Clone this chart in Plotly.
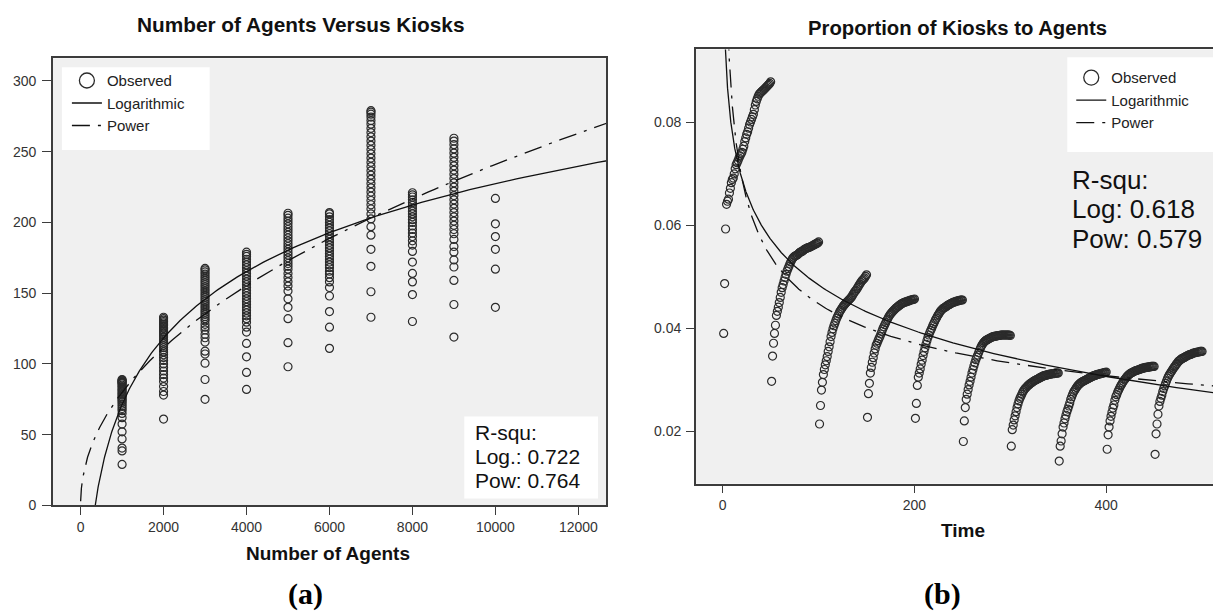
import numpy as np
import plotly.graph_objects as go

W, H = 1221, 612

# ---------------- Panel (a) data: kiosks observed per number of agents ----------------
agent_levels = [1000, 2000, 3000, 4000, 5000, 6000, 7000, 8000, 9000, 10000]
kiosks_1000 = [29, 38.5, 40.5, 47, 52, 57.5, 62, 65, 67, 68.5, 70, 71.5, 73, 74, 75, 76, 77, 78,
               79, 80, 81, 82, 83, 84, 85, 86, 86.5, 87, 87.5, 88, 88.5, 89]
kiosks_2000 = [61, 78, 80.5, 84, 87.5, 90, 92.5, 95, 97.5, 100, 102.5, 104.5, 106.5, 108.5, 110,
               111.5, 113, 114.5, 116, 117.5, 119, 120.5, 122, 123, 124, 125, 126, 127, 128, 129,
               130, 131, 132, 133]
kiosks_3000 = [75, 89, 100.5, 107, 109, 115.5, 118.5, 121, 124, 126, 128, 130.5, 132, 133.5, 135,
               136.5, 138, 139.5, 141, 142.5, 144, 145.5, 147, 148.5, 150, 151.5, 153, 154.5, 156,
               157.5, 159, 160.5, 162, 163.5, 165, 166.5, 167.5]
kiosks_4000 = [82, 94, 105, 114.5, 122.5, 126, 129.5, 132, 134, 136, 138, 140, 142, 144, 146, 148,
               150, 152, 154, 156, 158, 160, 162, 164, 166, 168, 170, 172, 174, 176, 177.5, 179]
kiosks_5000 = [98, 115, 132, 140, 146, 151.5, 155, 158, 161, 164, 167, 169, 171, 173, 175, 177,
               179, 181, 183, 185, 187, 189, 191, 193, 195, 197, 199, 201, 203, 205, 206.5]
kiosks_6000 = [111, 126, 137, 148, 154, 158, 161, 163.5, 165.5, 168, 170, 172, 174, 176, 178, 180,
               182, 184, 186, 188, 190, 192, 194, 196, 198, 200, 202, 204, 206, 207]
kiosks_7000 = [133, 151, 169, 181, 191, 197, 202.5, 206, 209.5, 212.5, 215.5, 218.5, 221.5, 224.5,
               227.5, 230.5, 233.5, 236.5, 239.5, 242.5, 245.5, 248.5, 251.5, 254.5, 257.5, 260.5,
               263.5, 266.5, 269.5, 272, 274.5, 276.5, 278, 279]
kiosks_8000 = [130, 149, 158, 164, 172, 179.5, 184, 187, 190, 192.5, 195, 197.5, 200, 202, 204,
               206, 208, 210, 212, 214, 216, 218, 219.5, 221]
kiosks_9000 = [119, 142, 159, 168.5, 173.5, 179, 183, 188, 192, 195, 198, 201, 204, 207, 210, 213,
               216, 219, 222, 225, 228, 231, 234, 237, 240, 243, 246, 249, 252, 255, 257.5, 259.5]
kiosks_10000 = [140, 167, 181, 190, 199, 217]

# fitted curve coefficients: log y = a + b ln x ; power y = c x^d
log_fit_a = [-397.0, 67.8]
pow_fit_a = [2.925, 0.479]
rsq_a = ["R-squ:", "Log.: 0.722", "Pow: 0.764"]

# ---------------- Panel (b) data: proportion of kiosks to agents over time ----------------
run_starts = [1, 51, 101, 151, 201, 251, 301, 351, 401, 451]
prop_run1 = [0.0390, 0.0487, 0.0593, 0.0641, 0.0647, 0.0651, 0.0663, 0.0672, 0.0683, 0.0689,
             0.0692, 0.0700, 0.0710, 0.0718, 0.0722, 0.0726, 0.0731, 0.0735, 0.0739, 0.0742,
             0.0748, 0.0754, 0.0763, 0.0770, 0.0777, 0.0782, 0.0789, 0.0796, 0.0801, 0.0806,
             0.0811, 0.0816, 0.0825, 0.0834, 0.0841, 0.0846, 0.0851, 0.0855, 0.0857, 0.0859,
             0.0861, 0.0862, 0.0864, 0.0866, 0.0868, 0.0870, 0.0872, 0.0874, 0.0876, 0.0879]
prop_run2 = [0.0297, 0.0346, 0.0371, 0.0390, 0.0406, 0.0425, 0.0433, 0.0441, 0.0450, 0.0460,
             0.0470, 0.0479, 0.0485, 0.0492, 0.0499, 0.0505, 0.0511, 0.0516, 0.0520, 0.0525,
             0.0529, 0.0533, 0.0536, 0.0538, 0.0540, 0.0541, 0.0542, 0.0543, 0.0545, 0.0547,
             0.0548, 0.0549, 0.0550, 0.0551, 0.0553, 0.0554, 0.0555, 0.0556, 0.0557, 0.0557,
             0.0558, 0.0559, 0.0560, 0.0561, 0.0562, 0.0563, 0.0564, 0.0565, 0.0566, 0.0568]
prop_run3 = [0.0214, 0.0250, 0.0280, 0.0295, 0.0310, 0.0320, 0.0329, 0.0337, 0.0345, 0.0355,
             0.0364, 0.0374, 0.0384, 0.0392, 0.0399, 0.0405, 0.0410, 0.0415, 0.0420, 0.0424,
             0.0428, 0.0432, 0.0435, 0.0438, 0.0441, 0.0444, 0.0446, 0.0448, 0.0450, 0.0452,
             0.0454, 0.0456, 0.0458, 0.0460, 0.0463, 0.0466, 0.0469, 0.0472, 0.0474, 0.0477,
             0.0480, 0.0483, 0.0486, 0.0489, 0.0492, 0.0494, 0.0496, 0.0498, 0.0501, 0.0504]
prop_run4 = [0.0227, 0.0273, 0.0293, 0.0313, 0.0324, 0.0334, 0.0343, 0.0352, 0.0360, 0.0367,
             0.0371, 0.0376, 0.0380, 0.0384, 0.0389, 0.0394, 0.0399, 0.0403, 0.0407, 0.0411,
             0.0415, 0.0418, 0.0422, 0.0425, 0.0428, 0.0430, 0.0432, 0.0434, 0.0436, 0.0438,
             0.0440, 0.0441, 0.0443, 0.0444, 0.0446, 0.0447, 0.0448, 0.0449, 0.0450, 0.0451,
             0.0451, 0.0452, 0.0453, 0.0453, 0.0454, 0.0455, 0.0455, 0.0456, 0.0456, 0.0457]
prop_run5 = [0.0225, 0.0254, 0.0289, 0.0305, 0.0313, 0.0321, 0.0330, 0.0338, 0.0347, 0.0355,
             0.0362, 0.0369, 0.0376, 0.0382, 0.0387, 0.0392, 0.0396, 0.0400, 0.0405, 0.0409,
             0.0413, 0.0417, 0.0420, 0.0424, 0.0427, 0.0430, 0.0433, 0.0435, 0.0437, 0.0439,
             0.0440, 0.0441, 0.0442, 0.0444, 0.0445, 0.0446, 0.0447, 0.0448, 0.0449, 0.0450,
             0.0451, 0.0451, 0.0452, 0.0453, 0.0453, 0.0454, 0.0454, 0.0455, 0.0455, 0.0455]
prop_run6 = [0.0180, 0.0220, 0.0246, 0.0262, 0.0272, 0.0281, 0.0290, 0.0297, 0.0305, 0.0313,
             0.0320, 0.0327, 0.0333, 0.0339, 0.0344, 0.0348, 0.0353, 0.0358, 0.0362, 0.0366,
             0.0369, 0.0372, 0.0374, 0.0376, 0.0377, 0.0378, 0.0379, 0.0380, 0.0381, 0.0382,
             0.0383, 0.0384, 0.0384, 0.0385, 0.0385, 0.0385, 0.0386, 0.0386, 0.0386, 0.0387,
             0.0387, 0.0387, 0.0387, 0.0387, 0.0387, 0.0387, 0.0387, 0.0387, 0.0387, 0.0386]
prop_run7 = [0.0171, 0.0203, 0.0212, 0.0222, 0.0230, 0.0238, 0.0246, 0.0253, 0.0259, 0.0264,
             0.0268, 0.0272, 0.0276, 0.0279, 0.0282, 0.0284, 0.0286, 0.0288, 0.0290, 0.0291,
             0.0293, 0.0294, 0.0295, 0.0297, 0.0298, 0.0299, 0.0300, 0.0301, 0.0302, 0.0303,
             0.0304, 0.0305, 0.0306, 0.0307, 0.0308, 0.0308, 0.0309, 0.0309, 0.0310, 0.0310,
             0.0311, 0.0311, 0.0311, 0.0312, 0.0312, 0.0312, 0.0313, 0.0313, 0.0313, 0.0313]
prop_run8 = [0.0142, 0.0171, 0.0181, 0.0195, 0.0208, 0.0216, 0.0224, 0.0231, 0.0238, 0.0243,
             0.0249, 0.0255, 0.0262, 0.0267, 0.0272, 0.0276, 0.0279, 0.0282, 0.0285, 0.0288,
             0.0290, 0.0292, 0.0293, 0.0295, 0.0296, 0.0297, 0.0298, 0.0299, 0.0300, 0.0301,
             0.0302, 0.0303, 0.0304, 0.0305, 0.0306, 0.0307, 0.0308, 0.0308, 0.0309, 0.0310,
             0.0310, 0.0311, 0.0311, 0.0312, 0.0312, 0.0313, 0.0313, 0.0314, 0.0314, 0.0315]
prop_run9 = [0.0165, 0.0193, 0.0208, 0.0220, 0.0229, 0.0237, 0.0245, 0.0251, 0.0260, 0.0267,
             0.0271, 0.0276, 0.0280, 0.0284, 0.0288, 0.0291, 0.0294, 0.0297, 0.0300, 0.0302,
             0.0305, 0.0307, 0.0309, 0.0310, 0.0312, 0.0313, 0.0314, 0.0315, 0.0316, 0.0317,
             0.0318, 0.0318, 0.0319, 0.0320, 0.0320, 0.0321, 0.0322, 0.0322, 0.0323, 0.0323,
             0.0324, 0.0324, 0.0324, 0.0325, 0.0325, 0.0325, 0.0326, 0.0326, 0.0326, 0.0326]
prop_run10 = [0.0155, 0.0195, 0.0214, 0.0233, 0.0249, 0.0258, 0.0264, 0.0270, 0.0277, 0.0283,
              0.0288, 0.0293, 0.0298, 0.0303, 0.0307, 0.0310, 0.0313, 0.0316, 0.0319, 0.0322,
              0.0325, 0.0327, 0.0330, 0.0332, 0.0335, 0.0337, 0.0338, 0.0340, 0.0341, 0.0342,
              0.0343, 0.0344, 0.0345, 0.0346, 0.0347, 0.0348, 0.0349, 0.0349, 0.0350, 0.0351,
              0.0352, 0.0352, 0.0353, 0.0353, 0.0354, 0.0354, 0.0354, 0.0355, 0.0355, 0.0355]

log_fit_b = [0.1074, -0.01281]
pow_fit_b = [0.155, -0.2698]
rsq_b = ["R-squ:", "Log: 0.618", "Pow: 0.579"]

# ---------------- assemble ----------------
kiosk_lists = [kiosks_1000, kiosks_2000, kiosks_3000, kiosks_4000, kiosks_5000,
               kiosks_6000, kiosks_7000, kiosks_8000, kiosks_9000, kiosks_10000]
xa, ya = [], []
for lvl, ks in zip(agent_levels, kiosk_lists):
    xa += [lvl] * len(ks)
    ya += ks

runs = [prop_run1, prop_run2, prop_run3, prop_run4, prop_run5,
        prop_run6, prop_run7, prop_run8, prop_run9, prop_run10]
tb, yb = [], []
for s, r in zip(run_starts, runs):
    tb += [s + i for i in range(len(r))]
    yb += r

FONT = "Liberation Sans"
INK = "#2b2b2b"
mk = dict(symbol="circle-open", size=8, color=INK, line=dict(width=1.2, color=INK))
solid = dict(color="#111", width=1.3)
dashdot = dict(color="#111", width=1.3, dash="18px,8px,3px,8px")

fig = go.Figure()

# panel a
xs_a = np.geomspace(1, 12700, 500)
fig.add_trace(go.Scatter(x=xa, y=ya, mode="markers", marker=mk, showlegend=False,
                         xaxis="x", yaxis="y", hoverinfo="skip"))
fig.add_trace(go.Scatter(x=[None], y=[None], mode="markers", name="Observed",
                         marker=dict(symbol="circle-open", size=15, color=INK,
                                     line=dict(width=1.3, color=INK)),
                         xaxis="x", yaxis="y", legend="legend"))
fig.add_trace(go.Scatter(x=xs_a, y=log_fit_a[0] + log_fit_a[1] * np.log(xs_a), mode="lines",
                         name="Logarithmic", line=solid, xaxis="x", yaxis="y", legend="legend"))
fig.add_trace(go.Scatter(x=xs_a, y=pow_fit_a[0] * xs_a ** pow_fit_a[1], mode="lines",
                         name="Power", line=dashdot, xaxis="x", yaxis="y", legend="legend"))

# panel b
xs_b = np.geomspace(1, 530, 500)
fig.add_trace(go.Scatter(x=tb, y=yb, mode="markers", marker=mk, showlegend=False,
                         xaxis="x2", yaxis="y2", hoverinfo="skip"))
fig.add_trace(go.Scatter(x=[None], y=[None], mode="markers", name="Observed",
                         marker=dict(symbol="circle-open", size=15, color=INK,
                                     line=dict(width=1.3, color=INK)),
                         xaxis="x2", yaxis="y2", legend="legend2"))
fig.add_trace(go.Scatter(x=xs_b, y=log_fit_b[0] + log_fit_b[1] * np.log(xs_b), mode="lines",
                         name="Logarithmic", line=solid, xaxis="x2", yaxis="y2", legend="legend2"))
fig.add_trace(go.Scatter(x=xs_b, y=pow_fit_b[0] * xs_b ** pow_fit_b[1], mode="lines",
                         name="Power", line=dashdot, xaxis="x2", yaxis="y2", legend="legend2"))


def px(x):
    return x / W


def py(y):
    return 1 - y / H


axis_common = dict(showgrid=False, zeroline=False, showline=True, mirror=True,
                   linecolor="#3c3c3c", linewidth=1.5, ticks="outside",
                   tickwidth=1.3, tickcolor="#3c3c3c",
                   tickfont=dict(family=FONT, size=14, color="#333"))

legend_common = dict(xanchor="left", yanchor="top", bgcolor="rgba(0,0,0,0)", borderwidth=0,
                     font=dict(family=FONT, size=15, color="#222"), tracegroupgap=0,
                     itemclick=False, itemdoubleclick=False)

fig.update_layout(
    width=W, height=H, margin=dict(l=0, r=0, t=0, b=0),
    paper_bgcolor="white", plot_bgcolor="#f0f0f0",
    xaxis=dict(domain=[px(45), px(599)], range=[-667, 12667], anchor="y",
               tickvals=[0, 2000, 4000, 6000, 8000, 10000, 12000], tickformat="d",
               ticklen=8, ticklabelstandoff=0, **axis_common),
    yaxis=dict(domain=[py(504), py(51)], range=[0, 316], anchor="x",
               tickvals=[0, 50, 100, 150, 200, 250, 300], ticklen=9, ticklabelstandoff=3,
               **axis_common),
    xaxis2=dict(domain=[px(689), 1.0], range=[-28, 526], anchor="y2",
                tickvals=[0, 200, 400], ticklen=8, ticklabelstandoff=0, **axis_common),
    yaxis2=dict(domain=[py(482), py(42)], range=[0.0098, 0.0942], anchor="x2",
                tickvals=[0.02, 0.04, 0.06, 0.08], tickformat=".2f", ticklen=8,
                ticklabelstandoff=2, **axis_common),
    legend=dict(x=px(59), y=py(57), **legend_common),
    legend2=dict(x=px(1065), y=py(54), **legend_common),
    showlegend=True,
)

shapes = [
    dict(type="rect", xref="paper", yref="paper", x0=px(54), x1=px(202), y0=py(144), y1=py(60),
         fillcolor="white", line=dict(width=0), layer="below"),
    dict(type="rect", xref="paper", yref="paper", x0=px(1061), x1=px(1211), y0=py(146), y1=py(50),
         fillcolor="white", line=dict(width=0), layer="below"),
    dict(type="rect", xref="paper", yref="paper", x0=px(457), x1=px(591), y0=py(497), y1=py(414),
         fillcolor="white", line=dict(width=0), layer="above"),
]
fig.update_layout(shapes=shapes)


def ann(text, x, y, size, bold=False, family=FONT, xanchor="center", color="#111"):
    t = f"<b>{text}</b>" if bold else text
    fig.add_annotation(text=t, x=px(x), y=py(y), xref="paper", yref="paper", showarrow=False,
                       xanchor=xanchor, yanchor="middle",
                       font=dict(family=family, size=size, color=color))


ann("Number of Agents Versus Kiosks", 293, 17, 20.8, bold=True)
ann("Proportion of Kiosks to Agents", 951, 20, 20.3, bold=True)
ann("Number of Agents", 321, 553, 19, bold=True)
ann("Time", 957, 529, 19, bold=True)
ann("(a)", 298, 594, 30, bold=True, family="Liberation Serif", color="#000")
ann("(b)", 936, 594, 30, bold=True, family="Liberation Serif", color="#000")

for txt, yy in zip(rsq_a, [430, 454, 479]):
    ann(txt, 466, yy, 21, xanchor="left")
for txt, yy in zip(rsq_b, [174, 204, 234]):
    ann(txt, 1064, yy, 26, xanchor="left")

fig.write_html("out.html")
